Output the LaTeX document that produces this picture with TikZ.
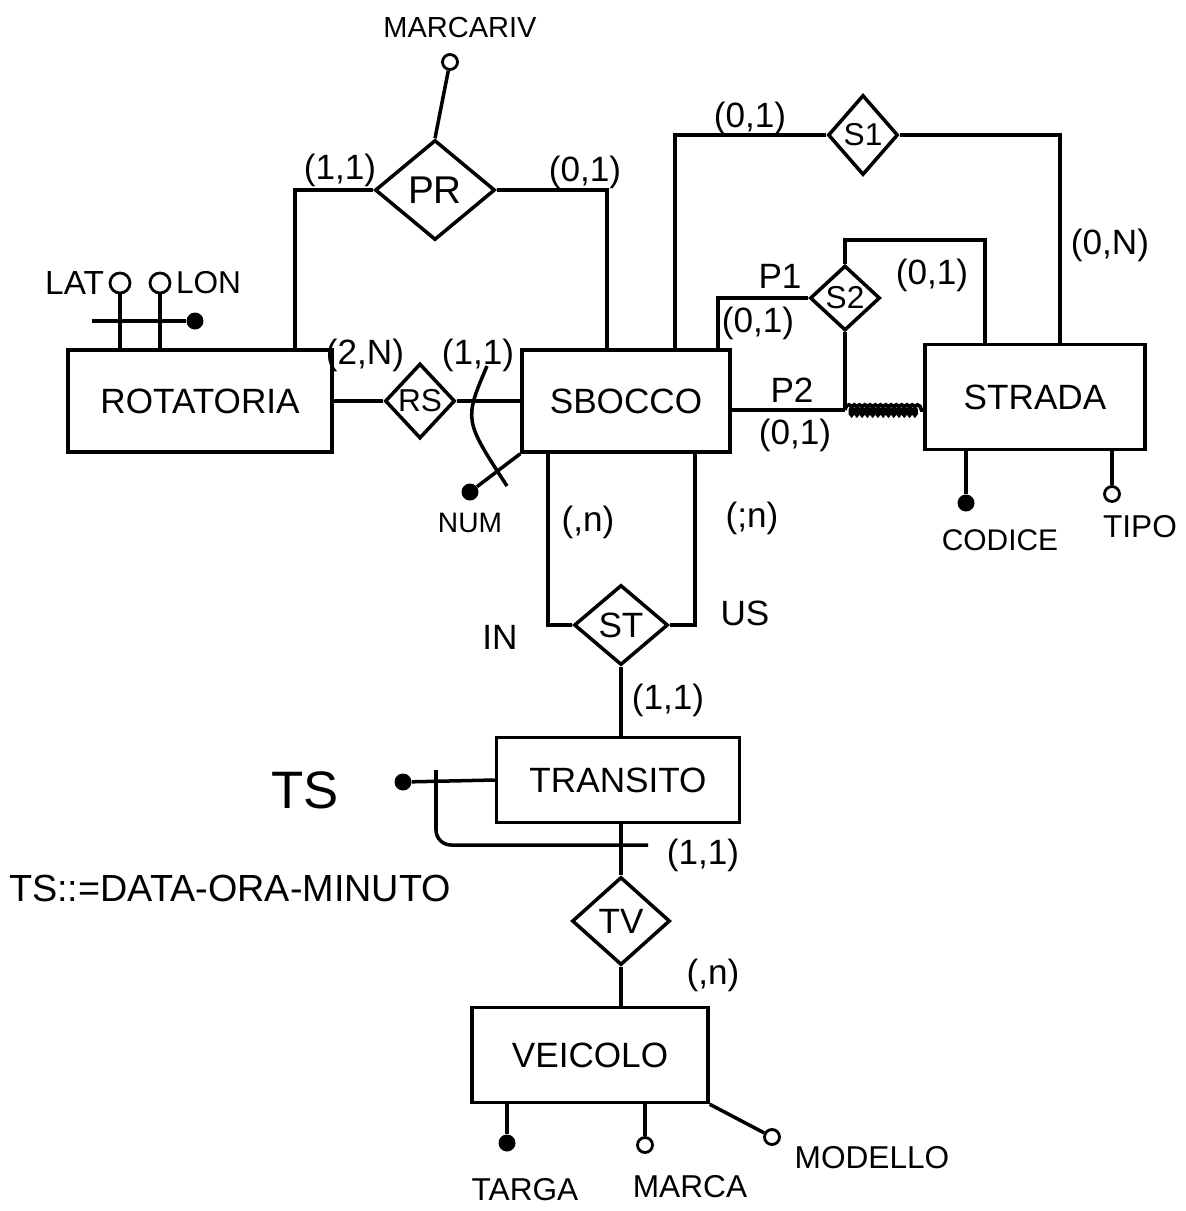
\documentclass[tikz,border=0pt]{standalone}
\usepackage{fontspec}
\setmainfont{Liberation Sans}
\usepackage{tikz}
\usetikzlibrary{positioning,calc,shapes.geometric,decorations.pathmorphing}
\tikzset{
  entita/.style={rectangle, draw, line width=2pt, font=\fontsize{20}{22}\selectfont},
  rel/.style={diamond, draw, line width=2pt, inner sep=0pt, aspect=1,
              font=\fontsize{18}{20}\selectfont},
  attr/.style={circle, draw, line width=1.6pt, fill=white, minimum size=0.3cm, inner sep=0pt},
  chiave/.style={circle, fill, minimum size=0.34cm, inner sep=0pt},
  lnk/.style={line width=2pt},
  card/.style={font=\fontsize{20}{22}\selectfont, inner sep=0pt},
  etic/.style={font=\fontsize{18}{20}\selectfont, inner sep=1pt},
}

\begin{document}
\begin{tikzpicture}[x=0.02cm, y=-0.02cm, node distance=3mm]
    \useasboundingbox (0,0) rectangle (1186,1211);
    \node[entita, minimum width=5.28cm, minimum height=2.04cm] (rot) at (200,401) {ROTATORIA};
    \node[entita, minimum width=4.16cm, minimum height=2.04cm] (sb) at (626,401) {SBOCCO};
    \node[entita, minimum width=4.4cm, minimum height=2.1cm] (str) at (1035,397) {STRADA};
    \node[entita, minimum width=4.86cm, minimum height=1.7cm] (tr) at (618,780) {TRANSITO};
    \node[entita, minimum width=4.72cm, minimum height=1.9cm] (vei) at (590,1055) {VEICOLO};

    \node[rel, minimum width=2.4cm, minimum height=2cm, font=\fontsize{22}{24}\selectfont] (pr) at (435,190) {PR};
    \node[rel, minimum width=1.4cm, minimum height=1.5cm] (rs) at (420,401) {RS};
    \node[rel, minimum width=1.4cm, minimum height=1.6cm] (s1) at (863,135) {S1};
    \node[rel, minimum width=1.4cm, minimum height=1.3cm] (s2) at (845,298) {S2};
    \node[rel, minimum width=1.88cm, minimum height=1.6cm, font=\fontsize{20}{22}\selectfont] (st) at (621,625) {ST};
    \node[rel, minimum width=1.96cm, minimum height=1.76cm, font=\fontsize{20}{22}\selectfont] (tv) at (621,921) {TV};

    \draw[lnk] ([xshift=1.9cm]rot.north) |- (pr.west);
    \draw[lnk] (pr.east) -| ([xshift=-0.38cm]sb.north);
    \draw[lnk] (rot.east) -- (rs.west);
    \draw[lnk] (rs.east) -- (sb.west);
    \draw[lnk] ([xshift=0.98cm]sb.north) |- (s1.west);
    \draw[lnk] (s1.east) -| ([xshift=0.5cm]str.north);
    \draw[lnk] ([xshift=1.84cm]sb.north) |- (s2.west);
    \draw[lnk] (s2.north) -- ++(0,-24) -| ([xshift=-1cm]str.north);
    \coordinate (p2a) at ([yshift=-0.18cm]sb.east);
    \coordinate (p2b) at (p2a -| str.west);
    \coordinate (p2c) at (s2.south |- p2a);
    \draw[lnk] (p2a) -- (p2c);
    \draw[lnk] (s2.south) -- (p2c);
    \draw[lnk, decorate, decoration={coil, amplitude=3pt, segment length=3pt}] (p2c) -- (p2b);
    \draw[lnk] ([xshift=-1.56cm]sb.south) |- (st.west);
    \draw[lnk] ([xshift=1.38cm]sb.south) |- (st.east);
    \draw[lnk] (st.south) -- (st.south |- tr.north);
    \draw[lnk] (tv.north |- tr.south) -- (tv.north);
    \draw[lnk] (tv.south) -- (tv.south |- vei.north);

    \node[attr] (marcariv) at (450,62) {};
    \node[etic, font=\fontsize{16.5}{18}\selectfont] (lmarcariv) at (460,28) {MARCARIV};
    \draw[lnk] (pr.north) -- (marcariv);

    \node[attr, minimum size=0.4cm] (lat) at (120,283) {};
    \node[attr, minimum size=0.4cm] (lon) at (160,283) {};
    \node[etic, font=\fontsize{19}{21}\selectfont, left=0.5mm of lat] (llat) {LAT};
    \node[etic, right=0.5mm of lon] (llon) {LON};
    \draw[lnk] (lat) -- (lat |- rot.north);
    \draw[lnk] (lon) -- (lon |- rot.north);
    \node[chiave] (llkey) at (195,321) {};
    \draw[lnk] (92,321) -- (llkey);

    \node[chiave] (num) at (470,492) {};
    \node[etic, font=\fontsize{16}{18}\selectfont, below=2mm of num] (lnum) {NUM};
    \draw[lnk] (sb.south west) -- (num);
    \draw[lnk] (487,366) .. controls (464,420) .. (507,486);

    \node[chiave] (cod) at (966,503) {};
    \draw[lnk] (cod |- str.south) -- (cod);
    \node[etic, font=\fontsize{17}{19}\selectfont] (lcod) at (1000,540) {CODICE};
    \node[attr] (tipo) at (1112,494) {};
    \draw[lnk] (tipo |- str.south) -- (tipo);
    \node[etic] (ltipo) at (1140,527) {TIPO};

    \node[chiave] (ts) at (403,782) {};
    \draw[lnk] (tr.west) -- (ts);
    \node[font=\fontsize{30}{32}\selectfont] (lts) at (305,790) {TS};
    \draw[lnk, rounded corners=0.3cm] (436,770) |- (648,845);
    \node[font=\fontsize{21.5}{23}\selectfont] (dom) at (230,888) {TS::=DATA-ORA-MINUTO};

    \node[chiave] (targa) at (507,1143) {};
    \draw[lnk] (targa |- vei.south) -- (targa);
    \node[etic] (ltarga) at (525,1190) {TARGA};
    \node[attr] (marca) at (645,1145) {};
    \draw[lnk] (marca |- vei.south) -- (marca);
    \node[etic] (lmarca) at (690,1187) {MARCA};
    \node[attr] (modello) at (772,1137) {};
    \draw[lnk] (vei.south east) -- (modello);
    \node[etic] (lmodello) at (872,1158) {MODELLO};

    \node[card] (c1) at (340,170) {(1,1)};
    \node[card] (c2) at (585,172) {(0,1)};
    \node[card] (c3) at (365,355) {(2,N)};
    \node[card] (c4) at (478,355) {(1,1)};
    \node[card] (c5) at (750,118) {(0,1)};
    \node[card] (c6) at (1110,245) {(0,N)};
    \node[card] (lp1) at (780,276) {P1};
    \node[card] (c7) at (758,323) {(0,1)};
    \node[card] (c8) at (932,275) {(0,1)};
    \node[card] (lp2) at (792,390) {P2};
    \node[card] (c9) at (795,435) {(0,1)};
    \node[card] (c10) at (588,522) {(,n)};
    \node[card] (c11) at (752,518) {(;n)};
    \node[card] (lin) at (500,637) {IN};
    \node[card] (lus) at (745,613) {US};
    \node[card] (c12) at (668,700) {(1,1)};
    \node[card] (c13) at (703,855) {(1,1)};
    \node[card] (c14) at (713,975) {(,n)};
\end{tikzpicture}
\end{document}
